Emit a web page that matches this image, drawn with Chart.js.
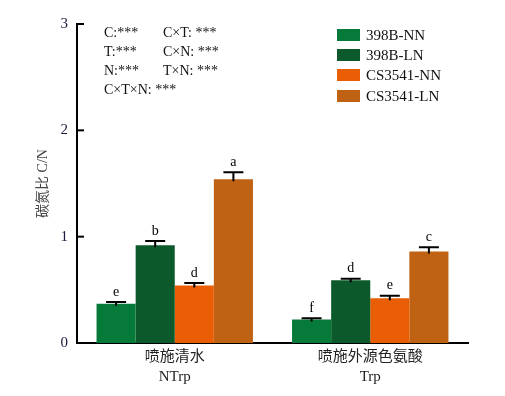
<!DOCTYPE html>
<html>
<head>
<meta charset="utf-8">
<script src="https://cdn.jsdelivr.net/npm/chart.js@4/dist/chart.umd.min.js"></script>
<style>
  html, body { margin: 0; padding: 0; background: #fff; }
  #wrap { width: 505px; height: 396px; }
</style>
</head>
<body>
<div id="wrap"><canvas id="cnChart"></canvas></div>
<script>
// 数据
const categories = [['喷施清水', 'NTrp'], ['喷施外源色氨酸', 'Trp']];
const seriesNames = ['398B-NN', '398B-LN', 'CS3541-NN', 'CS3541-LN'];
const seriesColors = ['#067a39', '#0c5a2b', '#e95e04', '#c06214'];
const values = [
    [0.37, 0.22],
    [0.92, 0.59],
    [0.54, 0.42],
    [1.54, 0.86]
];
const errors = [
    [0.015, 0.013],
    [0.04, 0.015],
    [0.025, 0.025],
    [0.065, 0.04]
];
const letters = [
    ['e', 'f'],
    ['b', 'd'],
    ['d', 'e'],
    ['a', 'c']
];
const yTicks = [0, 1, 2, 3];
const statsText = [
    ['C:***', 'C×T: ***'],
    ['T:***', 'C×N: ***'],
    ['N:***', 'T×N: ***'],
    ['C×T×N: ***', '']
];

const serif = '"Liberation Serif", "Times New Roman", "Noto Sans CJK SC", serif';

// 误差线 + 字母
const errorBarPlugin = {
    id: 'errorBars',
    afterDatasetsDraw(chart) {
        const ctx = chart.ctx;
        const y = chart.scales.y;
        ctx.save();
        ctx.strokeStyle = '#000';
        ctx.lineWidth = 2;
        chart.data.datasets.forEach((ds, i) => {
            const meta = chart.getDatasetMeta(i);
            meta.data.forEach((bar, j) => {
                const top = y.getPixelForValue(values[i][j] + errors[i][j]);
                const base = bar.y;
                ctx.beginPath();
                ctx.moveTo(bar.x, base + 2);
                ctx.lineTo(bar.x, top);
                ctx.moveTo(bar.x - 10, top);
                ctx.lineTo(bar.x + 10, top);
                ctx.stroke();
                ctx.fillStyle = '#000';
                ctx.font = '14px ' + serif;
                ctx.textAlign = 'center';
                ctx.textBaseline = 'bottom';
                ctx.fillText(letters[i][j], bar.x, top - 3);
            });
        });
        ctx.restore();
    }
};

// 坐标刻度向内、图例、显著性文本
const decorPlugin = {
    id: 'decor',
    afterDraw(chart) {
        const ctx = chart.ctx;
        const y = chart.scales.y;
        const left = chart.chartArea.left;
        ctx.save();
        ctx.strokeStyle = '#000';
        ctx.lineWidth = 2;
        yTicks.forEach(v => {
            if (v === 0) return;
            const py = y.getPixelForValue(v);
            ctx.beginPath();
            ctx.moveTo(left, py);
            ctx.lineTo(left + 7, py);
            ctx.stroke();
        });

        // 显著性
        ctx.fillStyle = '#111';
        ctx.font = '14px ' + serif;
        ctx.textAlign = 'left';
        ctx.textBaseline = 'middle';
        statsText.forEach((row, r) => {
            ctx.fillText(row[0], 104, 33 + r * 19);
            if (row[1]) ctx.fillText(row[1], 163, 33 + r * 19);
        });

        // 图例
        const legendY = [35, 55, 75, 96];
        ctx.font = '15px ' + serif;
        seriesNames.forEach((name, i) => {
            ctx.fillStyle = seriesColors[i];
            ctx.fillRect(337, legendY[i] - 6, 23, 12);
            ctx.fillStyle = '#111';
            ctx.fillText(name, 366, legendY[i] + 1);
        });
        ctx.restore();
    }
};

new Chart(document.getElementById('cnChart'), {
    type: 'bar',
    data: {
        labels: categories,
        datasets: seriesNames.map((name, i) => ({
            label: name,
            data: values[i],
            backgroundColor: seriesColors[i],
            borderWidth: 0,
            categoryPercentage: 0.8,
            barPercentage: 1.0
        }))
    },
    options: {
        responsive: true,
        maintainAspectRatio: false,
        animation: false,
        layout: { padding: { top: 24, right: 37, left: 35, bottom: 0 } },
        plugins: {
            legend: { display: false },
            tooltip: { enabled: false }
        },
        scales: {
            x: {
                grid: { display: false, drawTicks: false },
                border: { display: true, color: '#000', width: 2 },
                ticks: {
                    color: '#222',
                    padding: 4,
                    font: { size: 15, family: serif, lineHeight: 1.35 }
                },
                afterFit(scale) { scale.height = 53; }
            },
            y: {
                min: 0,
                max: 3,
                afterBuildTicks(scale) { scale.ticks = yTicks.map(v => ({ value: v })); },
                grid: { display: false, drawTicks: false },
                border: { display: true, color: '#000', width: 2 },
                ticks: {
                    color: '#1b1b40',
                    padding: 9,
                    font: { size: 15, family: serif }
                },
                title: {
                    display: true,
                    text: '碳氮比 C/N',
                    color: '#444',
                    padding: { top: 0, bottom: 0 },
                    font: { size: 14, family: serif }
                },
                afterFit(scale) { scale.width = 42; }
            }
        }
    },
    plugins: [errorBarPlugin, decorPlugin]
});
</script>
</body>
</html>
